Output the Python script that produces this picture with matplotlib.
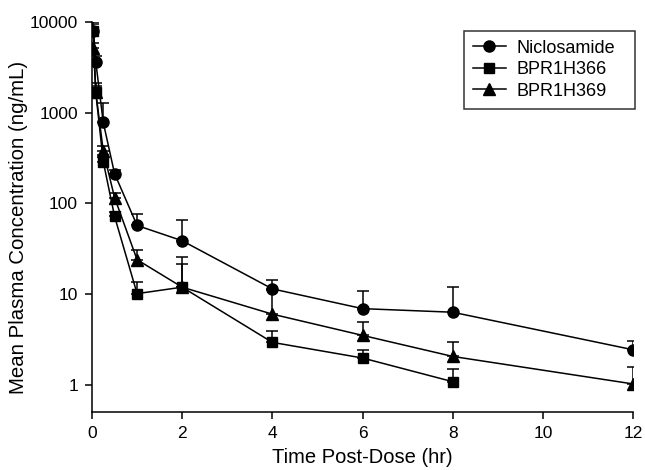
import matplotlib
matplotlib.use("Agg")
import matplotlib.pyplot as plt
from matplotlib.lines import Line2D
import numpy as np

plt.rcParams['font.family'] = ['Liberation Sans', 'DejaVu Sans']

time_nic = [0.033, 0.083, 0.25, 0.5, 1, 2, 4, 6, 8, 12]
nic = [8000, 3650, 780, 213, 57, 38.7, 11.4, 6.9, 6.3, 2.43]
nic_err = [2000, 600, 510, 19, 20, 27, 3.0, 3.8, 5.6, 0.6]

time_366 = [0.033, 0.083, 0.25, 0.5, 1, 2, 4, 6, 8]
b366 = [7900, 1680, 288, 72, 10.1, 11.9, 2.93, 1.97, 1.08]
b366_err = [1500, 470, 50, 8, 3.4, 13.4, 1.0, 0.46, 0.42]

time_369 = [0.033, 0.083, 0.25, 0.5, 1, 2, 4, 6, 8, 12]
b369 = [5200, 1700, 377, 116, 23.9, 11.9, 6.0, 3.5, 2.05, 1.02]
b369_err = [600, 250, 50, 13, 6.4, 9.5, 5.0, 1.4, 0.88, 0.53]

labels = ['Niclosamide', 'BPR1H366', 'BPR1H369']
markers = ['o', 's', '^']
msizes = [8, 6.8, 8]

fig = plt.figure(figsize=(6.45, 4.7), dpi=100)
ax = fig.add_axes([92/645, 58/470, (633-92)/645, (412-22)/470])

series = [(time_nic, nic, nic_err), (time_366, b366, b366_err), (time_369, b369, b369_err)]
handles = []
for (t, v, e), lab, m, ms in zip(series, labels, markers, msizes):
    ax.errorbar(t, v, yerr=[np.zeros(len(e)), e], color='black', marker=m,
                markersize=ms, linewidth=1.1, elinewidth=1.1,
                capsize=4.3, capthick=1.1)
    handles.append(Line2D([], [], color='black', marker=m, markersize=ms,
                          linewidth=1.1, label=lab))

ax.set_yscale('log')
ax.set_ylim(0.5, 10000)
ax.set_xlim(0, 12)
ax.set_yticks([1, 10, 100, 1000, 10000])
ax.set_yticklabels(['1', '10', '100', '1000', '10000'])
ax.yaxis.set_minor_locator(matplotlib.ticker.NullLocator())
ax.set_xticks([0, 2, 4, 6, 8, 10, 12])
ax.spines['top'].set_visible(False)
ax.spines['right'].set_visible(False)
for s in ['left', 'bottom']:
    ax.spines[s].set_linewidth(1.1)
ax.tick_params(direction='out', length=5, width=1.1, labelsize=12.5, pad=5)
ax.set_xlabel('Time Post-Dose (hr)', fontsize=14.5, labelpad=5)
ax.set_ylabel('Mean Plasma Concentration (ng/mL)', fontsize=14.7)
ax.yaxis.set_label_coords(-0.118, 0.472)

leg = ax.legend(handles=handles, loc='upper right',
                bbox_to_anchor=(0.6876, 0.5, 0.316, 0.478), mode='expand',
                fontsize=13, frameon=True, fancybox=False, edgecolor='black',
                handlelength=1.8, handletextpad=0.6, borderpad=0.5,
                labelspacing=0.25, borderaxespad=0)
leg.get_frame().set_linewidth(1.1)

fig.savefig('out.png', dpi=100)
